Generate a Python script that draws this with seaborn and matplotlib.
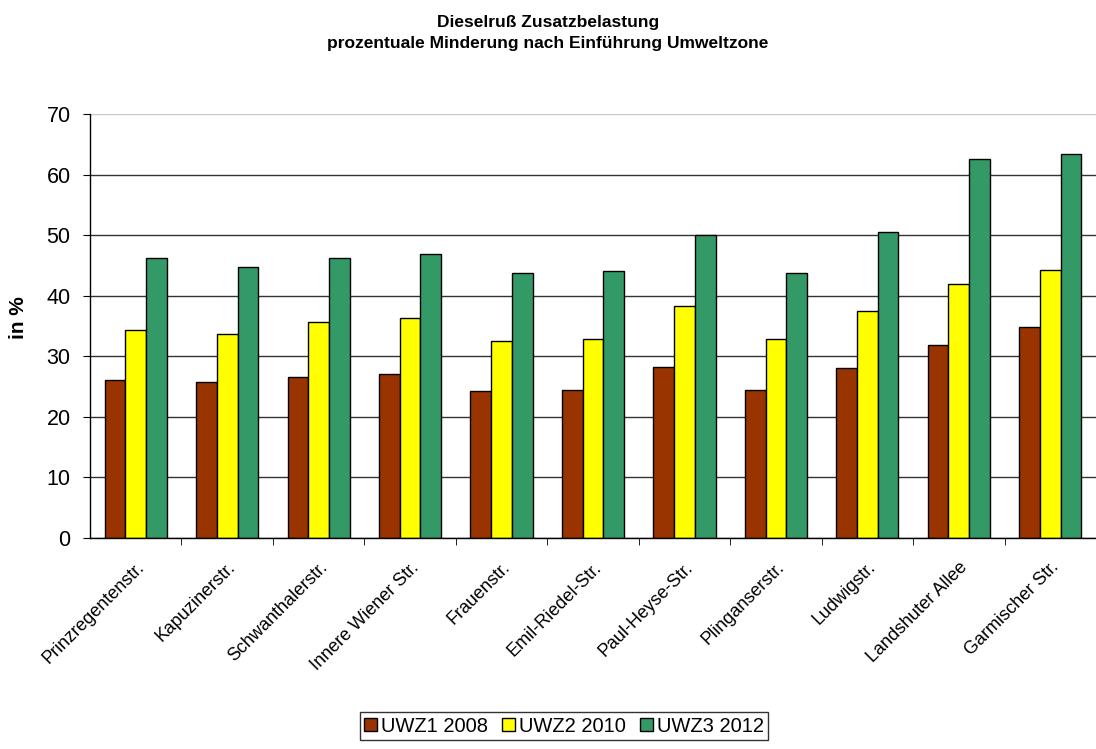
import numpy as np
import pandas as pd
import matplotlib
matplotlib.use("Agg")
import matplotlib.pyplot as plt
import seaborn as sns

# ----------------------------------------------
# DATA
# ----------------------------------------------
streets = ["Prinzregentenstr.", "Kapuzinerstr.", "Schwanthalerstr.",
           "Innere Wiener Str.", "Frauenstr.", "Emil-Riedel-Str.",
           "Paul-Heyse-Str.", "Plinganserstr.", "Ludwigstr.",
           "Landshuter Allee", "Garmischer Str."]
uwz1_2008 = [26.1, 25.7, 26.6, 27.0, 24.2, 24.4, 28.3, 24.4, 28.1, 31.9, 34.9]
uwz2_2010 = [34.4, 33.6, 35.7, 36.4, 32.6, 32.8, 38.3, 32.8, 37.5, 42.0, 44.3]
uwz3_2012 = [46.2, 44.7, 46.2, 46.9, 43.7, 44.1, 50.1, 43.7, 50.5, 62.5, 63.4]
series_names = ["UWZ1 2008", "UWZ2 2010", "UWZ3 2012"]
colors = ["#993300", "#FFFF00", "#339966"]

df = pd.DataFrame({
    "Straße": streets * 3,
    "Wert": uwz1_2008 + uwz2_2010 + uwz3_2012,
    "Serie": [s for s in series_names for _ in streets],
})

sns.set_style("white")
plt.rcParams["font.family"] = ["Liberation Sans", "DejaVu Sans"]
plt.rcParams.update({"text.color": "black", "axes.labelcolor": "black",
                     "xtick.color": "black", "ytick.color": "black"})

fig = plt.figure(figsize=(10.96, 7.49), dpi=100)
ax = fig.add_axes([0.0821, 0.2817, 0.9179, 0.5661])

sns.barplot(data=df, x="Straße", y="Wert", hue="Serie", order=streets,
            hue_order=series_names, palette=colors, width=0.68, gap=0,
            edgecolor="black", linewidth=1, saturation=1, ax=ax, legend=True)

ax.set_ylim(0, 70)
ax.set_xlim(-0.5, len(streets) - 0.5)
ax.set_yticks(range(0, 71, 10))
ax.yaxis.grid(True, color="#333333", linewidth=1)
ax.get_ygridlines()[-1].set_color("#c8c8c8")
ax.set_axisbelow(True)

# tick marks sit between categories, labels at centres
ax.set_xticks(np.arange(len(streets)))
ax.set_xticklabels(streets, rotation=45, ha="right", rotation_mode="anchor",
                   fontsize=13)
ax.tick_params(axis="x", which="major", length=0, pad=15)
ax.set_xticks(np.arange(len(streets) - 1) + 0.5, minor=True)
ax.tick_params(axis="x", which="minor", length=5, color="black", direction="out",
               bottom=True)
ax.tick_params(axis="y", length=5, color="black", direction="out", left=True,
               labelsize=15.5, pad=9)

for side in ["top", "right"]:
    ax.spines[side].set_visible(False)
for side in ["left", "bottom"]:
    ax.spines[side].set_color("black")
    ax.spines[side].set_linewidth(1)

ax.set_xlabel("")
ax.set_ylabel("in %", fontsize=15, fontweight="bold", labelpad=12)
ax.yaxis.set_label_coords(-0.062, 0.52)

handles, labels = ax.get_legend_handles_labels()
ax.get_legend().remove()
leg = fig.legend(handles, labels, loc="center", ncol=3,
                 bbox_to_anchor=(564 / 1096, 1 - 726 / 749), fontsize=14.5,
                 frameon=True, fancybox=False, edgecolor="black",
                 handlelength=0.65, handleheight=0.65, handletextpad=0.2,
                 columnspacing=0.7, borderpad=0.2, borderaxespad=0)
leg.get_frame().set_linewidth(1)

fig.text(0.5, 1 - 33 / 749,
         "Dieselruß Zusatzbelastung\nprozentuale Minderung nach Einführung Umweltzone",
         ha="center", va="center", fontsize=12.5, fontweight="bold",
         linespacing=1.45)

fig.savefig("out.png", dpi=100)
